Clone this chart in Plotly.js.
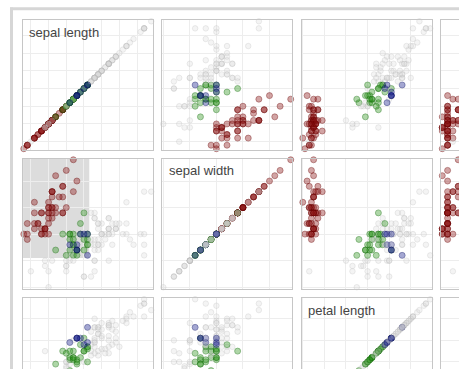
<!DOCTYPE html>
<html><head><meta charset="utf-8">
<script src="https://cdn.plot.ly/plotly-3.0.1.min.js"></script>
<style>html,body{margin:0;padding:0;overflow:hidden;background:#fff}#chart{width:600px;height:460px}</style>
</head><body><div id="chart"></div><script>
const traits = ["sepal length", "sepal width", "petal length", "petal width"];
const speciesNames = ["setosa", "versicolor", "virginica"];

const sepalLength = [5.1,4.9,4.7,4.6,5.0,5.4,4.6,5.0,4.4,4.9,5.4,4.8,4.8,4.3,5.8,5.7,5.4,5.1,5.7,5.1,5.4,5.1,4.6,5.1,4.8,5.0,5.0,5.2,5.2,4.7,4.8,5.4,5.2,5.5,4.9,5.0,5.5,4.9,4.4,5.1,5.0,4.5,4.4,5.0,5.1,4.8,5.1,4.6,5.3,5.0,
7.0,6.4,6.9,5.5,6.5,5.7,6.3,4.9,6.6,5.2,5.0,5.9,6.0,6.1,5.6,6.7,5.6,5.8,6.2,5.6,5.9,6.1,6.3,6.1,6.4,6.6,6.8,6.7,6.0,5.7,5.5,5.5,5.8,6.0,5.4,6.0,6.7,6.3,5.6,5.5,5.5,6.1,5.8,5.0,5.6,5.7,5.7,6.2,5.1,5.7,
6.3,5.8,7.1,6.3,6.5,7.6,4.9,7.3,6.7,7.2,6.5,6.4,6.8,5.7,5.8,6.4,6.5,7.7,7.7,6.0,6.9,5.6,7.7,6.3,6.7,7.2,6.2,6.1,6.4,7.2,7.4,7.9,6.4,6.3,6.1,7.7,6.3,6.4,6.0,6.9,6.7,6.9,5.8,6.8,6.7,6.7,6.3,6.5,6.2,5.9];
const sepalWidth = [3.5,3.0,3.2,3.1,3.6,3.9,3.4,3.4,2.9,3.1,3.7,3.4,3.0,3.0,4.0,4.4,3.9,3.5,3.8,3.8,3.4,3.7,3.6,3.3,3.4,3.0,3.4,3.5,3.4,3.2,3.1,3.4,4.1,4.2,3.1,3.2,3.5,3.1,3.0,3.4,3.5,2.3,3.2,3.5,3.8,3.0,3.8,3.2,3.7,3.3,
3.2,3.2,3.1,2.3,2.8,2.8,3.3,2.4,2.9,2.7,2.0,3.0,2.2,2.9,2.9,3.1,3.0,2.7,2.2,2.5,3.2,2.8,2.5,2.8,2.9,3.0,2.8,3.0,2.9,2.6,2.4,2.4,2.7,2.7,3.0,3.4,3.1,2.3,3.0,2.5,2.6,3.0,2.6,2.3,2.7,3.0,2.9,2.9,2.5,2.8,
3.3,2.7,3.0,2.9,3.0,3.0,2.5,2.9,2.5,3.6,3.2,2.7,3.0,2.5,2.8,3.2,3.0,3.8,2.6,2.2,3.2,2.8,2.8,2.7,3.3,3.2,2.8,3.0,2.8,3.0,2.8,3.8,2.8,2.8,2.6,3.0,3.4,3.1,3.0,3.1,3.1,3.1,2.7,3.2,3.3,3.0,2.5,3.0,3.4,3.0];
const petalLength = [1.4,1.4,1.3,1.5,1.4,1.7,1.4,1.5,1.4,1.5,1.5,1.6,1.4,1.1,1.2,1.5,1.3,1.4,1.7,1.5,1.7,1.5,1.0,1.7,1.9,1.6,1.6,1.5,1.4,1.6,1.6,1.5,1.5,1.4,1.5,1.2,1.3,1.5,1.3,1.5,1.3,1.3,1.3,1.6,1.9,1.4,1.6,1.4,1.5,1.4,
4.7,4.5,4.9,4.0,4.6,4.5,4.7,3.3,4.6,3.9,3.5,4.2,4.0,4.7,3.6,4.4,4.5,4.1,4.5,3.9,4.8,4.0,4.9,4.7,4.3,4.4,4.8,5.0,4.5,3.5,3.8,3.7,3.9,5.1,4.5,4.5,4.7,4.4,4.1,4.0,4.4,4.6,4.0,3.3,4.2,4.2,4.2,4.3,3.0,4.1,
6.0,5.1,5.9,5.6,5.8,6.6,4.5,6.3,5.8,6.1,5.1,5.3,5.5,5.0,5.1,5.3,5.5,6.7,6.9,5.0,5.7,4.9,6.7,4.9,5.7,6.0,4.8,4.9,5.6,5.8,6.1,6.4,5.6,5.1,5.6,6.1,5.6,5.5,4.8,5.4,5.6,5.1,5.1,5.9,5.7,5.2,5.0,5.2,5.4,5.1];
const petalWidth = [0.2,0.2,0.2,0.2,0.2,0.4,0.3,0.2,0.2,0.1,0.2,0.2,0.1,0.1,0.2,0.4,0.4,0.3,0.3,0.3,0.2,0.4,0.2,0.5,0.2,0.2,0.4,0.2,0.2,0.2,0.2,0.4,0.1,0.2,0.1,0.2,0.2,0.1,0.2,0.2,0.3,0.3,0.2,0.6,0.4,0.3,0.2,0.2,0.2,0.2,
1.4,1.5,1.5,1.3,1.5,1.3,1.6,1.0,1.3,1.4,1.0,1.5,1.0,1.4,1.3,1.4,1.5,1.0,1.5,1.1,1.8,1.3,1.5,1.2,1.3,1.4,1.4,1.7,1.5,1.0,1.1,1.0,1.2,1.6,1.5,1.6,1.5,1.3,1.3,1.3,1.2,1.4,1.2,1.0,1.3,1.2,1.3,1.3,1.1,1.3,
2.5,1.9,2.1,1.8,2.2,2.1,1.7,1.8,1.8,2.5,2.0,1.9,2.1,2.0,2.4,2.3,1.8,2.2,2.3,1.5,2.3,2.0,2.0,1.8,2.1,1.8,1.8,1.8,2.1,1.6,1.9,2.0,2.2,1.5,1.4,2.3,2.4,1.8,1.8,2.1,2.4,2.3,1.9,2.3,2.5,2.3,1.9,2.0,2.3,1.8];
const speciesIndex = [0,0,0,0,0,0,0,0,0,0,0,0,0,0,0,0,0,0,0,0,0,0,0,0,0,0,0,0,0,0,0,0,0,0,0,0,0,0,0,0,0,0,0,0,0,0,0,0,0,0,
1,1,1,1,1,1,1,1,1,1,1,1,1,1,1,1,1,1,1,1,1,1,1,1,1,1,1,1,1,1,1,1,1,1,1,1,1,1,1,1,1,1,1,1,1,1,1,1,1,1,
2,2,2,2,2,2,2,2,2,2,2,2,2,2,2,2,2,2,2,2,2,2,2,2,2,2,2,2,2,2,2,2,2,2,2,2,2,2,2,2,2,2,2,2,2,2,2,2,2,2];

// brush extent (data units) drawn in the sepal length x sepal width cell
const brushSepalLength = [4.28, 6.15];
const brushSepalWidth = [2.55, 4.45];

const values = [sepalLength, sepalWidth, petalLength, petalWidth];
const gridStep = [0.5, 0.5, 1, 0.5];

const W = 600, H = 460;
const colLeft = [22.5, 162, 301.5, 441];
const rowTop = [20, 158.5, 298];
const cellW = 130, cellH = 130;

const fillCols = ["rgba(140,20,20,0.55)", "rgba(45,150,30,0.55)", "rgba(20,30,140,0.55)"];
const lineCols = ["rgba(105,0,0,0.75)", "rgba(20,110,10,0.75)", "rgba(10,15,100,0.75)"];
const grayFill = "rgba(215,215,215,0.38)";
const grayLine = "rgba(180,180,180,0.45)";

const selected = sepalLength.map((v, i) =>
  v >= brushSepalLength[0] && v <= brushSepalLength[1] &&
  sepalWidth[i] >= brushSepalWidth[0] && sepalWidth[i] <= brushSepalWidth[1]);
const mFill = speciesIndex.map((s, i) => selected[i] ? fillCols[s] : grayFill);
const mLine = speciesIndex.map((s, i) => selected[i] ? lineCols[s] : grayLine);
const mSize = selected.map(s => s ? 6 : 5.5);

const data = [];
const layout = {
  width: W, height: H, margin: {l: 0, r: 0, t: 0, b: 0},
  paper_bgcolor: "#fff", plot_bgcolor: "#fff", showlegend: false,
  font: {family: "Liberation Sans, Arial, sans-serif"},
  annotations: [], shapes: []
};

function axRange(arr) {
  const mn = Math.min(...arr), mx = Math.max(...arr), pad = (mx - mn) * 0.01;
  return [mn - pad, mx + pad];
}

for (let r = 0; r < 3; r++) {
  for (let c = 0; c < 4; c++) {
    const k = r * 4 + c + 1;
    const xa = "xaxis" + (k === 1 ? "" : k), ya = "yaxis" + (k === 1 ? "" : k);
    const xs = "x" + (k === 1 ? "" : k), ys = "y" + (k === 1 ? "" : k);
    const common = {showgrid: true, gridcolor: "#ededed", gridwidth: 1, zeroline: false,
      showticklabels: false, ticks: "", showline: true, mirror: true,
      linecolor: "#c6c6c6", linewidth: 1, fixedrange: true};
    layout[xa] = Object.assign({}, common, {
      domain: [colLeft[c] / W, (colLeft[c] + cellW) / W], range: axRange(values[c]),
      dtick: gridStep[c], tick0: 0, anchor: ys});
    layout[ya] = Object.assign({}, common, {
      domain: [1 - (rowTop[r] + cellH) / H, 1 - rowTop[r] / H], range: axRange(values[r]),
      dtick: gridStep[r], tick0: 0, anchor: xs});
    data.push({
      type: "scatter", mode: "markers", xaxis: xs, yaxis: ys,
      x: values[c], y: values[r], cliponaxis: false, hoverinfo: "skip",
      marker: {size: mSize, color: mFill, line: {color: mLine, width: 0.8}}
    });
    if (r === c) {
      layout.annotations.push({
        xref: xs + " domain", yref: ys + " domain", x: 0.035, y: 0.98,
        xanchor: "left", yanchor: "top", showarrow: false, text: traits[r],
        font: {size: 13, color: "#444", family: "Liberation Sans, Arial, sans-serif"}
      });
    }
  }
}

// brush rectangle (cell: x = sepal length, y = sepal width)
layout.shapes.push({type: "rect", xref: "x5", yref: "y5", layer: "below",
  x0: brushSepalLength[0], x1: brushSepalLength[1], y0: brushSepalWidth[0], y1: brushSepalWidth[1],
  fillcolor: "#dcdcdc", line: {width: 0}});
// outer frame
layout.shapes.push({type: "line", xref: "paper", yref: "paper",
  x0: 10 / W, x1: 1, y0: 1 - 8.8 / H, y1: 1 - 8.8 / H, line: {color: "#d6d6d6", width: 3}});
layout.shapes.push({type: "line", xref: "paper", yref: "paper",
  x0: 11.5 / W, x1: 11.5 / W, y0: 0, y1: 1 - 7.5 / H, line: {color: "#d6d6d6", width: 3}});

Plotly.newPlot("chart", data, layout, {staticPlot: true, displayModeBar: false});
</script></body></html>
